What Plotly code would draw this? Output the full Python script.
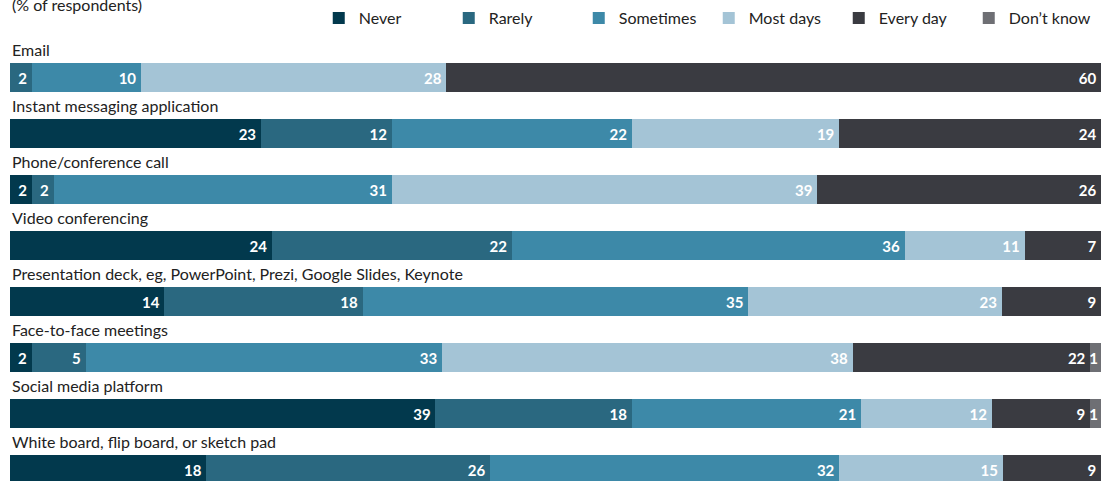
import plotly.graph_objects as go

categories = [
    "Email",
    "Instant messaging application",
    "Phone/conference call",
    "Video conferencing",
    "Presentation deck, eg, PowerPoint, Prezi, Google Slides, Keynote",
    "Face-to-face meetings",
    "Social media platform",
    "White board, flip board, or sketch pad",
]
series_names = ["Never", "Rarely", "Sometimes", "Most days", "Every day", "Don’t know"]
never = [0, 23, 2, 24, 14, 2, 39, 18]
rarely = [2, 12, 2, 22, 18, 5, 18, 26]
sometimes = [10, 22, 31, 36, 35, 33, 21, 32]
most_days = [28, 19, 39, 11, 23, 38, 12, 15]
every_day = [60, 24, 26, 7, 9, 22, 9, 9]
dont_know = [0, 0, 0, 0, 0, 1, 1, 0]
series_values = [never, rarely, sometimes, most_days, every_day, dont_know]
colors = ["#02394d", "#2a6880", "#3d89a8", "#a4c4d6", "#3a3b41", "#6e6f74"]

FONT = "Lato"
ypos = list(range(len(categories)))

fig = go.Figure()
for k, (name, vals, col) in enumerate(zip(series_names, series_values, colors)):
    pad = "" if k == len(series_names) - 1 else "\u2009"
    fig.add_trace(go.Bar(
        name=name, orientation="h", y=ypos, x=vals,
        marker=dict(color=col, line=dict(width=0)),
        width=0.518,
        text=[f"{v}{pad}" if v > 0 else "" for v in vals],
        textposition="inside", insidetextanchor="end", textangle=0,
        textfont=dict(family=FONT, size=15, color="white", weight="bold"),
        hoverinfo="skip",
    ))

for i, c in enumerate(categories):
    fig.add_annotation(x=0, xref="paper", y=i, yref="y", text=c,
                       xanchor="left", yanchor="middle", yshift=28, showarrow=False,
                       font=dict(family=FONT, size=16, color="#222222"))

fig.add_annotation(x=0, xref="paper", y=1, yref="paper", text="(% of respondents)",
                   xanchor="left", yanchor="middle", yshift=-4, showarrow=False,
                   font=dict(family=FONT, size=16, color="#222222"))

fig.update_layout(
    width=1112, height=481,
    margin=dict(l=10, r=11, t=0, b=0),
    barmode="stack", barnorm="percent",
    plot_bgcolor="white", paper_bgcolor="white",
    uniformtext=dict(minsize=15, mode="show"),
    xaxis=dict(range=[0, 100], visible=False, fixedrange=True),
    yaxis=dict(range=[7.205, -1.384], visible=False, fixedrange=True),
    showlegend=True,
    legend=dict(orientation="h", x=0.283, xanchor="left", y=1 - 18 / 481, yanchor="middle",
                entrywidth=85, entrywidthmode="pixels", itemwidth=30, traceorder="normal",
                font=dict(family=FONT, size=16, color="#222222"), bgcolor="rgba(0,0,0,0)"),
    font=dict(family=FONT),
)

fig.write_html("out.html", config={"displayModeBar": False},
               post_script="document.body.style.margin='0';")
